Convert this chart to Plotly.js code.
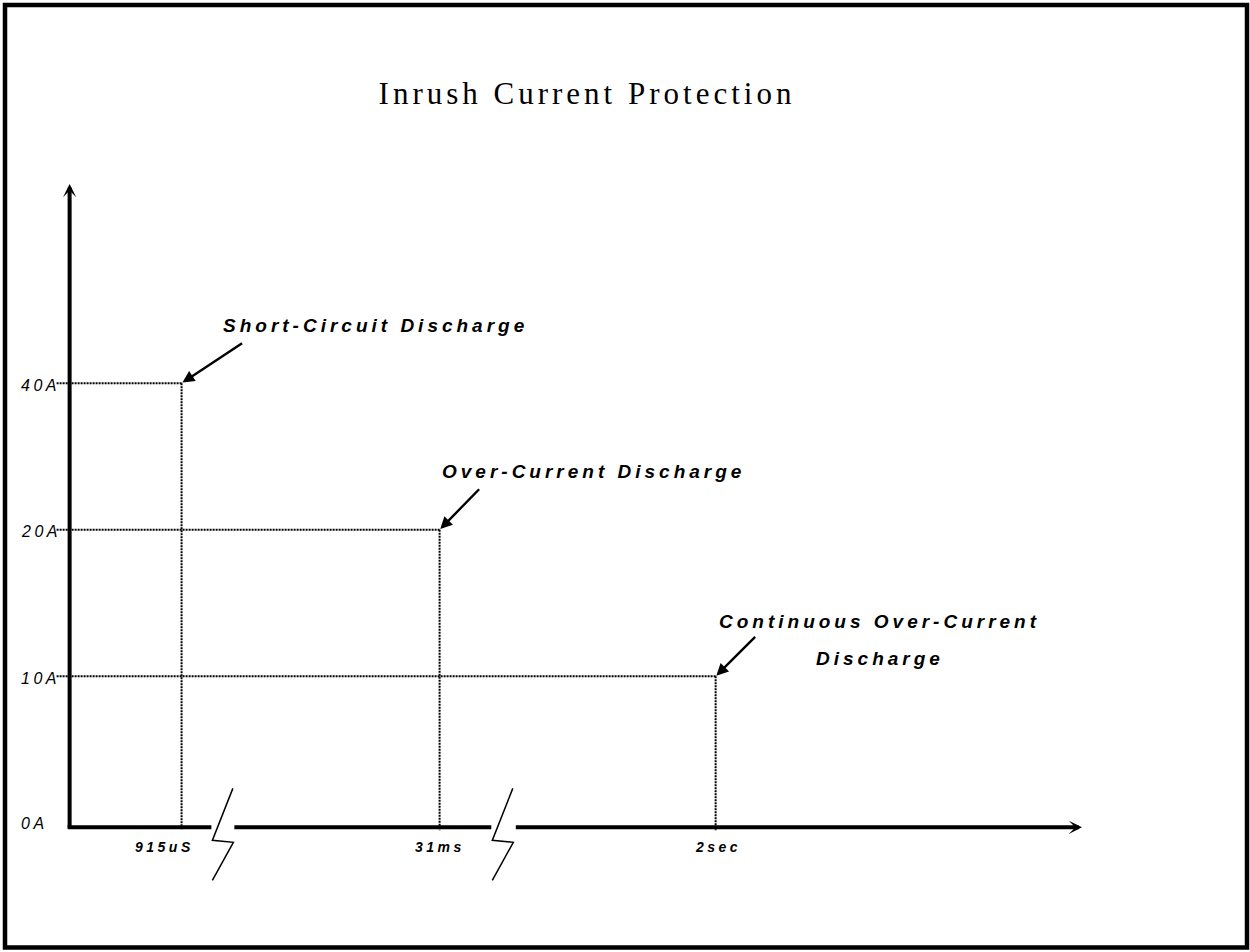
<!DOCTYPE html>
<html>
<head>
<meta charset="utf-8">
<script src="https://cdn.plot.ly/plotly-3.0.1.min.js"></script>
<style>
  html, body { margin: 0; padding: 0; background: #fff; }
  #chart { width: 1250px; height: 952px; }
  .annotation-text { letter-spacing: 3.5px; }
  .annotation-text[style*="font-size: 19px"] { letter-spacing: 4px; }
  .gtitle { letter-spacing: 4px; }
</style>
</head>
<body>
<div id="chart"></div>
<script>
// ---- Data (schematic positions) ----
const currentLabels = ['0A', '10A', '20A', '40A'];
const currentLevels = [0, 1.02, 2.01, 3];          // schematic y level of each current
const eventTimeLabels = ['915uS', '31ms', '2sec'];
const eventTimePos = [1, 2, 3.07];                  // schematic x position of each time
const eventCurrentLevel = [3, 2.01, 1.02];          // 40A, 20A, 10A
const eventLabelLines = [
  ['Short-Circuit Discharge'],
  ['Over-Current Discharge'],
  ['Continuous Over-Current', 'Discharge']
];
const axisBreakPos = [1.16, 2.245];                 // broken time axis

// ---- Layout geometry ----
const W = 1250, H = 952;
const M = { l: 50, r: 168, t: 184, b: 58 };
const xRange = [0.49, 4.49];
const yRange = [-0.45, 4.345];
const xOrigin = 0.566;
const plotW = W - M.l - M.r, plotH = H - M.t - M.b;
const pxX = plotW / (xRange[1] - xRange[0]);
const pxY = plotH / (yRange[1] - yRange[0]);
const dx = p => p / pxX, dy = p => p / pxY;
const gap = dx(11.5);
const dotStart = xOrigin - dx(13);
const px2paperX = p => (p - M.l) / plotW;
const px2paperY = p => (H - M.b - p) / plotH;

const traces = [];
// dotted guide lines
const hx = [], hy = [], vx = [], vy = [];
eventTimePos.forEach((t, i) => {
  hx.push(dotStart, t, null); hy.push(eventCurrentLevel[i], eventCurrentLevel[i], null);
  vx.push(t, t, null); vy.push(eventCurrentLevel[i], -dy(3), null);
});
const dotLine = { color: '#000', width: 2, dash: '2px,1px' };
traces.push({ x: hx, y: hy, mode: 'lines', line: dotLine, hoverinfo: 'skip', showlegend: false });
traces.push({ x: vx, y: vy, mode: 'lines', line: dotLine, hoverinfo: 'skip', showlegend: false });

// time axis segments (broken)
traces.push({
  x: [xOrigin - dx(2), axisBreakPos[0] - gap, null, axisBreakPos[0] + gap, axisBreakPos[1] - gap],
  y: [0, 0, null, 0, 0],
  mode: 'lines', line: { color: '#000', width: 4 }, hoverinfo: 'skip', showlegend: false
});
// break zigzags
const zzPx = [[10, 39], [-10.5, -13], [10.5, -15], [-10.5, -53]];
const zx = [], zy = [];
axisBreakPos.forEach(b => {
  zzPx.forEach(p => { zx.push(b + dx(p[0])); zy.push(dy(p[1])); });
  zx.push(null); zy.push(null);
});
traces.push({ x: zx, y: zy, mode: 'lines', line: { color: '#000', width: 1.5 }, hoverinfo: 'skip', showlegend: false });

const baseFont = { family: 'Liberation Sans, Arial, sans-serif', color: '#000' };
const annotations = [];
// axis arrows
annotations.push({ x: xOrigin, y: yRange[1], ax: xOrigin, ay: 0 - dy(2), xref: 'x', yref: 'y', axref: 'x', ayref: 'y',
  showarrow: true, arrowhead: 3, arrowsize: 0.55, arrowwidth: 4, arrowcolor: '#000', text: '' });
annotations.push({ x: xRange[1], y: 0, ax: axisBreakPos[1] + gap, ay: 0, xref: 'x', yref: 'y', axref: 'x', ayref: 'y',
  showarrow: true, arrowhead: 3, arrowsize: 0.55, arrowwidth: 4, arrowcolor: '#000', text: '' });

// current labels (left-aligned near the frame)
currentLabels.forEach((c, i) => {
  annotations.push({ x: px2paperX(19), y: currentLevels[i], xref: 'paper', yref: 'y', text: c, showarrow: false,
    xanchor: 'left', yanchor: 'middle', yshift: i === 0 ? 4 : -2,
    font: Object.assign({ size: 16, style: 'italic' }, baseFont) });
});
// time labels
const timeLabelShift = [-17, 0, 2];
eventTimeLabels.forEach((t, i) => {
  annotations.push({ x: eventTimePos[i], y: 0, xref: 'x', yref: 'y', text: t, showarrow: false,
    xanchor: 'center', yanchor: 'middle', xshift: timeLabelShift[i], yshift: -20,
    font: Object.assign({ size: 14, style: 'italic', weight: 'bold' }, baseFont) });
});
// event labels and pointer arrows
const labelShift = [[194, 58], [154, 58], [164, 55]];
const pointerTail = [[62, -41], [41, -42], [41, -41]];
eventLabelLines.forEach((lines, i) => {
  lines.forEach((ln, j) => {
    annotations.push({ x: eventTimePos[i], y: eventCurrentLevel[i], xref: 'x', yref: 'y', text: ln, showarrow: false,
      xanchor: 'center', yanchor: 'middle', xshift: labelShift[i][0], yshift: labelShift[i][1] - 37 * j,
      font: Object.assign({ size: 19, style: 'italic', weight: 'bold' }, baseFont) });
  });
  annotations.push({ x: eventTimePos[i], y: eventCurrentLevel[i], xref: 'x', yref: 'y', text: '',
    showarrow: true, ax: pointerTail[i][0], ay: pointerTail[i][1], arrowhead: 2, arrowsize: 1, arrowwidth: 2.4,
    arrowcolor: '#000', standoff: 1 });
});

// frame border (pixel -> paper)
const shapes = [{
  type: 'rect', xref: 'paper', yref: 'paper',
  x0: px2paperX(5), x1: px2paperX(1247), y0: px2paperY(947.5), y1: px2paperY(5),
  line: { color: '#000', width: 4.5 }, fillcolor: 'rgba(0,0,0,0)', layer: 'above'
}];

const layout = {
  width: W, height: H, margin: M,
  paper_bgcolor: '#fff', plot_bgcolor: '#fff',
  showlegend: false,
  title: { text: 'Inrush Current Protection', x: 587 / W, xref: 'container', xanchor: 'center',
    y: 1 - 93 / H, yref: 'container', yanchor: 'middle',
    font: { family: 'Liberation Serif, Times New Roman, serif', size: 31, color: '#000' } },
  xaxis: { range: xRange, visible: false, fixedrange: true },
  yaxis: { range: yRange, visible: false, fixedrange: true },
  annotations: annotations,
  shapes: shapes
};

Plotly.newPlot('chart', traces, layout, { displayModeBar: false, staticPlot: true });
</script>
</body>
</html>
